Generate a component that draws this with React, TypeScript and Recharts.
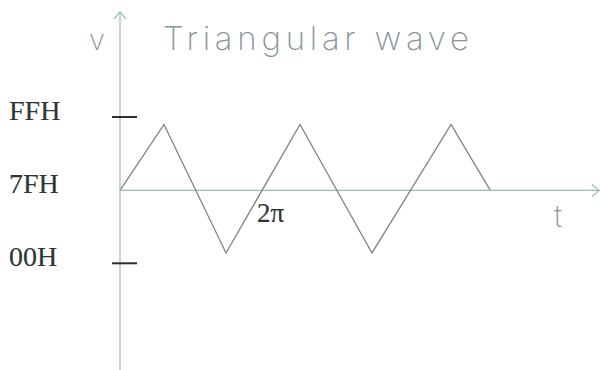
import React from 'react';
import { LineChart, Line, XAxis, YAxis, ReferenceLine, ReferenceDot } from 'recharts';

// Triangular wave sampled at its corners (time units along t, DAC code along v)
const times = [0, 44, 106, 180, 252, 331, 370];
const levels = [127, 242, 18, 242, 18, 242, 128];

// Vertical axis ticks (DAC codes) and their hex labels
const tickValues = [0, 127, 255];
const tickLabels = ['00H', '7FH', 'FFH'];
const tickMarked = [true, false, true];

const title = 'Triangular wave';
const periodLabel = '2π';
const periodTime = 140;
const midLevel = 127;

const timeSpan: [number, number] = [0, 480];
const levelSpan: [number, number] = [-186, 438];

const data = times.map((t, i) => ({ t, v: levels[i] }));

const axisColor = '#a0baba';
const waveColor = '#76857f';
const inkColor = '#2f3632';
const penColor = '#86979a';

function LevelTick(props: any) {
  const { x, y, payload } = props;
  const i = tickValues.indexOf(payload.value);
  return (
    <g>
      {tickMarked[i] && (
        <line x1={x - 8} x2={x + 17} y1={y} y2={y} stroke="#2a302c" strokeWidth={2} />
      )}
      <text
        x={x - 111}
        y={y + 3}
        fontFamily="'Liberation Serif', 'Times New Roman', serif"
        fontSize={28}
        fill={inkColor}
        stroke={inkColor}
        strokeWidth={0.15}
      >
        {tickLabels[i]}
      </text>
    </g>
  );
}

const UpArrow = (p: any) => (
  <path
    d={`M${p.cx - 6},${p.cy + 7}L${p.cx},${p.cy}L${p.cx + 6},${p.cy + 7}`}
    fill="none"
    stroke={axisColor}
    strokeWidth={1.2}
  />
);

const RightArrow = (p: any) => (
  <path
    d={`M${p.cx - 8},${p.cy - 6}L${p.cx - 1},${p.cy}L${p.cx - 8},${p.cy + 6}`}
    fill="none"
    stroke={axisColor}
    strokeWidth={1.2}
  />
);

const PeriodMark = (p: any) => (
  <text
    x={p.cx - 3}
    y={p.cy + 32}
    fontFamily="'Liberation Serif', 'Times New Roman', serif"
    fontSize={27}
    fill={inkColor}
    stroke={inkColor}
    strokeWidth={0.15}
  >
    {periodLabel}
  </text>
);

export default function App() {
  return (
    <div style={{ position: 'absolute', left: 0, top: 0, width: 600, height: 370, background: '#ffffff' }}>
      <LineChart width={600} height={370} data={data} margin={{ top: 12, right: 0, bottom: 0, left: 0 }}>
        <XAxis type="number" dataKey="t" domain={timeSpan} hide allowDataOverflow />
        <YAxis
          type="number"
          domain={levelSpan}
          ticks={tickValues}
          interval={0}
          width={120}
          tickSize={0}
          tickMargin={0}
          tickLine={false}
          axisLine={{ stroke: axisColor, strokeWidth: 1.2 }}
          tick={<LevelTick />}
          allowDataOverflow
        />
        <ReferenceLine y={midLevel} stroke={axisColor} strokeWidth={1.2} />
        <ReferenceDot x={timeSpan[0]} y={levelSpan[1]} r={0} ifOverflow="visible" shape={<UpArrow />} />
        <ReferenceDot x={timeSpan[1]} y={midLevel} r={0} ifOverflow="visible" shape={<RightArrow />} />
        <ReferenceDot x={periodTime} y={midLevel} r={0} ifOverflow="visible" shape={<PeriodMark />} />
        <Line
          type="linear"
          dataKey="v"
          stroke={waveColor}
          strokeWidth={1.3}
          dot={false}
          activeDot={false}
          isAnimationActive={false}
        />
      </LineChart>
      <svg
        width={600}
        height={370}
        style={{ position: 'absolute', left: 0, top: 0, pointerEvents: 'none' }}
      >
        <g fontFamily="Inter, 'DejaVu Sans', sans-serif" fontWeight={200} fill={penColor}>
          <text x={163} y={50} fontSize={33} textLength={306} lengthAdjust="spacing">
            {title}
          </text>
          <text x={89} y={50} fontSize={29}>v</text>
          <text x={554} y={227} fontSize={30}>t</text>
        </g>
      </svg>
    </div>
  );
}
